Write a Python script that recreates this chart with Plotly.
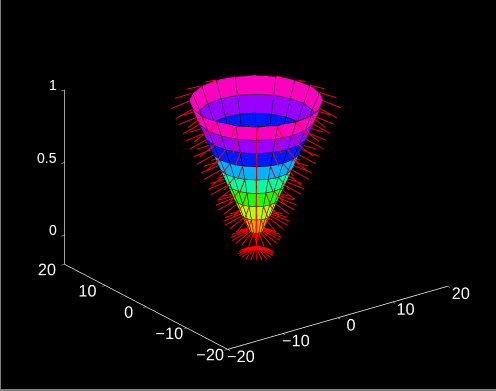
import math
import plotly.graph_objects as go

# Cone surface rows (height and radius of each ring)
ring_z = [0, 0.111, 0.222, 0.333, 0.444, 0.556, 0.667, 0.778, 0.889, 1.0]
ring_r = [0, 1.09, 2.18, 3.27, 4.36, 5.44, 6.53, 7.62, 8.71, 9.8]
# Angles of ribs (degrees)
rib_deg = [0, 18, 36, 54, 72, 90, 108, 126, 144, 162, 180, 198, 216, 234, 252, 270, 288, 306, 324, 342, 360]
# Band colours, bottom to top
band_colors = ["#ff0000", "#ff9900", "#b3ff00", "#19ff00", "#00ffa0", "#00b3ff", "#0019ff", "#9900ff", "#ff00bf"]
# Normal vector (radial, vertical) components
normal_r = 2.6
normal_z = -0.05
x_ticks = [-20, -10, 0, 10, 20]
y_ticks = [-20, -10, 0, 10, 20]
z_ticks = [0, 0.5, 1]
z_tick_text = ["0", "0.5", "1"]

cs = [(math.cos(math.radians(a)), math.sin(math.radians(a))) for a in rib_deg]

vx, vy, vz, fi, fj, fk, fc = [], [], [], [], [], [], []
for b, col in enumerate(band_colors):
    for a in range(len(rib_deg) - 1):
        n = len(vx)
        for (rr, zz, c) in [(ring_r[b], ring_z[b], cs[a]), (ring_r[b], ring_z[b], cs[a + 1]),
                            (ring_r[b + 1], ring_z[b + 1], cs[a + 1]), (ring_r[b + 1], ring_z[b + 1], cs[a])]:
            vx.append(rr * c[0]); vy.append(rr * c[1]); vz.append(zz)
        fi += [n, n]; fj += [n + 1, n + 2]; fk += [n + 2, n + 3]; fc += [col, col]

ex, ey, ez = [], [], []
for rr, zz in zip(ring_r, ring_z):
    for c in cs:
        ex.append(rr * c[0]); ey.append(rr * c[1]); ez.append(zz)
    ex.append(None); ey.append(None); ez.append(None)
for c in cs[:-1]:
    for rr, zz in zip(ring_r, ring_z):
        ex.append(rr * c[0]); ey.append(rr * c[1]); ez.append(zz)
    ex.append(None); ey.append(None); ez.append(None)

nx, ny, nz = [], [], []
for rr, zz in zip(ring_r, ring_z):
    for c in cs[:-1]:
        nx += [rr * c[0], (rr + normal_r) * c[0], None]
        ny += [rr * c[1], (rr + normal_r) * c[1], None]
        nz += [zz, zz + normal_z, None]

fig = go.Figure()
fig.add_trace(go.Mesh3d(x=vx, y=vy, z=vz, i=fi, j=fj, k=fk, facecolor=fc, flatshading=True,
                        lighting=dict(ambient=1, diffuse=0, specular=0, fresnel=0, roughness=1),
                        hoverinfo="skip", showscale=False))
fig.add_trace(go.Scatter3d(x=ex, y=ey, z=ez, mode="lines", line=dict(color="#000000", width=2.2),
                           hoverinfo="skip", showlegend=False))
fig.add_trace(go.Scatter3d(x=nx, y=ny, z=nz, mode="lines", line=dict(color="#ff0000", width=2),
                           hoverinfo="skip", showlegend=False))

TICK_FONT = dict(color="#ffffff", size=14, family="Liberation Sans")

def ax(rng, vals, labels=True):
    return dict(range=rng, tickvals=vals, showgrid=False, zeroline=False, showbackground=False,
                showline=True, linecolor="#ffffff", linewidth=1.5, ticks="outside", ticklen=4, tickcolor="#ffffff",
                tickwidth=1, tickfont=TICK_FONT, showticklabels=labels,
                title=dict(text=""), showspikes=False, tickangle=0)

z_labels = [dict(x=-20, y=20, z=v, text=t, showarrow=False, xanchor="right", yanchor="middle",
                 xshift=-6, yshift=5, font=TICK_FONT)
            for v, t in zip(z_ticks, z_tick_text)]

E = 2.5
fig.update_layout(
    width=495, height=389, margin=dict(l=0, r=0, t=0, b=0), paper_bgcolor="#000000", showlegend=False,
    scene=dict(
        domain=dict(x=[0, 1], y=[0, 1]), bgcolor="#000000",
        xaxis=ax([-20, 20], x_ticks), yaxis=ax([-20, 20], y_ticks), zaxis=ax([-0.2, 1], z_ticks, labels=False),
        annotations=z_labels,
        aspectmode="manual", aspectratio=dict(x=1.408, y=1.408, z=0.972),
        camera=dict(projection=dict(type="orthographic"), center=dict(x=-0.031, y=0.024, z=-0.036),
                    up=dict(x=0, y=0, z=1),
                    eye=dict(x=-0.61 * 0.927 * E, y=-0.794 * 0.927 * E, z=0.375 * E)),
    ),
)
fig.write_html("out.html", config=dict(displayModeBar=False),
               post_script="document.body.style.margin='0';document.body.style.background='#808080';"
                           "document.body.style.paddingLeft='1px';document.body.style.overflow='hidden';")
